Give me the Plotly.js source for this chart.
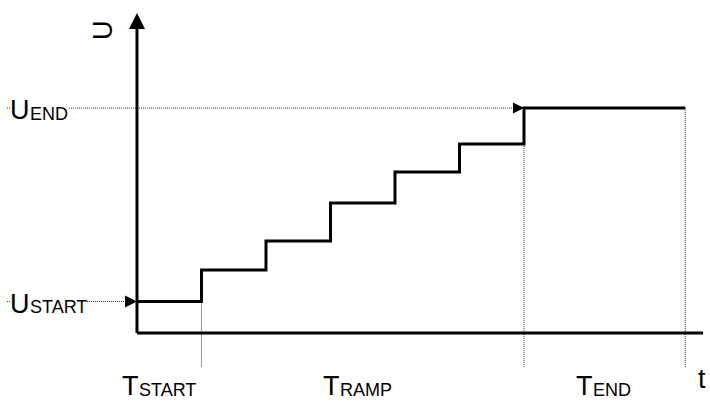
<!DOCTYPE html>
<html><head><meta charset="utf-8">
<script src="https://cdn.plot.ly/plotly-3.0.1.min.js"></script>
<style>html,body{margin:0;padding:0;background:#fff;}#chart{width:710px;height:401px;}</style>
</head><body><div id="chart"></div>
<script>
// Time breakpoints of the voltage ramp (arbitrary time units)
var stepTimes = [0, 1, 2, 3, 4, 5, 6, 8.5];
// Voltage level held in each interval (arbitrary voltage units)
var stepLevels = [1, 2, 2.92, 4.13, 5.11, 6.0, 7.14];
// Label texts: main letter + subscript
var levelLabelMain = ['U', 'U'];
var levelLabelSub = ['START', 'END'];
var timeLabelMain = ['T', 'T', 'T'];
var timeLabelSub = ['START', 'RAMP', 'END'];
var xAxisTitle = 't';
var yAxisTitle = 'U';

var FONT = 'Liberation Sans, Arial, sans-serif';
var MAIN = 27, SUBSZ = 18;

// figure-wide data ranges (axes hidden)
var xr = [-2.124, 8.884], yr = [-2.159, 10.571];
var leftEdge = -2.016;       // where dotted level lines start
var guideBottom = -1.08;     // bottom of vertical dotted guides
var yTop = 10.16;            // tip of the U-axis arrow
var xTip = 8.977;            // tip of the t-axis arrow

var nL = stepLevels.length;
var uStart = stepLevels[0], uEnd = stepLevels[nL - 1];
var tStart = stepTimes[1], tRampEnd = stepTimes[nL - 1], tEnd = stepTimes[stepTimes.length - 1];

var stepY = stepLevels.concat([uEnd]);
var dotLine = {color: '#333', width: 1, dash: '1px,1px'};

var traces = [
  // dotted guides
  {x: [leftEdge, 0], y: [uStart, uStart], mode: 'lines', line: dotLine, hoverinfo: 'skip'},
  {x: [leftEdge, tRampEnd], y: [uEnd, uEnd], mode: 'lines', line: dotLine, hoverinfo: 'skip'},
  {x: [tStart, tStart], y: [uStart, guideBottom], mode: 'lines', line: dotLine, hoverinfo: 'skip'},
  {x: [tRampEnd, tRampEnd], y: [uEnd, guideBottom], mode: 'lines', line: dotLine, hoverinfo: 'skip'},
  {x: [tEnd, tEnd], y: [uEnd, guideBottom], mode: 'lines', line: dotLine, hoverinfo: 'skip'},
  // axes
  {x: [0, xTip - 0.2], y: [0, 0], mode: 'lines', line: {color: '#000', width: 3}, hoverinfo: 'skip'},
  {x: [0, 0], y: [0, yTop - 0.3], mode: 'lines', line: {color: '#000', width: 3}, hoverinfo: 'skip'},
  // step ramp
  {x: stepTimes, y: stepY, mode: 'lines', line: {color: '#000', width: 3, shape: 'hv'}, hoverinfo: 'skip'},
  // arrow heads
  {x: [0], y: [yTop], mode: 'markers', marker: {symbol: 'arrow-up', size: 16, color: '#000'}, cliponaxis: false, hoverinfo: 'skip'},
  {x: [xTip], y: [0], mode: 'markers', marker: {symbol: 'arrow-right', size: 16, color: '#000'}, cliponaxis: false, hoverinfo: 'skip'},
  {x: [0], y: [uStart], mode: 'markers', marker: {symbol: 'arrow-right', size: 12, color: '#000'}, cliponaxis: false, hoverinfo: 'skip'},
  {x: [tRampEnd], y: [uEnd], mode: 'markers', marker: {symbol: 'arrow-right', size: 11, color: '#000'}, cliponaxis: false, hoverinfo: 'skip'}
];

function mainFont() { return {family: FONT, size: MAIN, color: '#000'}; }
function subFont() { return {family: FONT, size: SUBSZ, color: '#000'}; }

var annotations = [];
// pair of annotations: main letter (right-anchored) + subscript (left-anchored)
function addLabel(main, sub, xj, y, yshMain, yshSub, bg) {
  var a = {x: xj, y: y, text: main, xanchor: 'right', yanchor: 'middle', yshift: yshMain, font: mainFont()};
  var b = {x: xj, y: y, text: sub, xanchor: 'left', yanchor: 'middle', yshift: yshSub, font: subFont()};
  if (bg) { [a, b].forEach(function (o) { o.bgcolor = '#fff'; }); }
  annotations.push(a, b);
}
addLabel(levelLabelMain[0], levelLabelSub[0], -1.657, uStart, -2.4, -5.8, true);
addLabel(levelLabelMain[1], levelLabelSub[1], -1.659, uEnd, -2.1, -5.9, true);
var tJunction = [0.025, 3.144, 7.064];
for (var i = 0; i < 3; i++) addLabel(timeLabelMain[i], timeLabelSub[i], tJunction[i], -1.689, 0, -4.2, false);
annotations.push({x: 8.76, y: -1.467, text: xAxisTitle, xanchor: 'center', yanchor: 'middle', font: mainFont()});
annotations.push({x: -0.527, y: 9.62, text: yAxisTitle, textangle: -90, xanchor: 'center', yanchor: 'middle', font: mainFont()});
annotations.forEach(function (a) { a.showarrow = false; a.xref = 'x'; a.yref = 'y'; a.borderpad = 0; a.borderwidth = 0; });

var layout = {
  width: 710, height: 401,
  margin: {l: 0, r: 0, t: 0, b: 0, pad: 0},
  paper_bgcolor: '#fff', plot_bgcolor: '#fff',
  showlegend: false,
  xaxis: {range: xr, visible: false, fixedrange: true},
  yaxis: {range: yr, visible: false, fixedrange: true},
  annotations: annotations
};
Plotly.newPlot('chart', traces, layout, {staticPlot: true, displayModeBar: false});
</script></body></html>
